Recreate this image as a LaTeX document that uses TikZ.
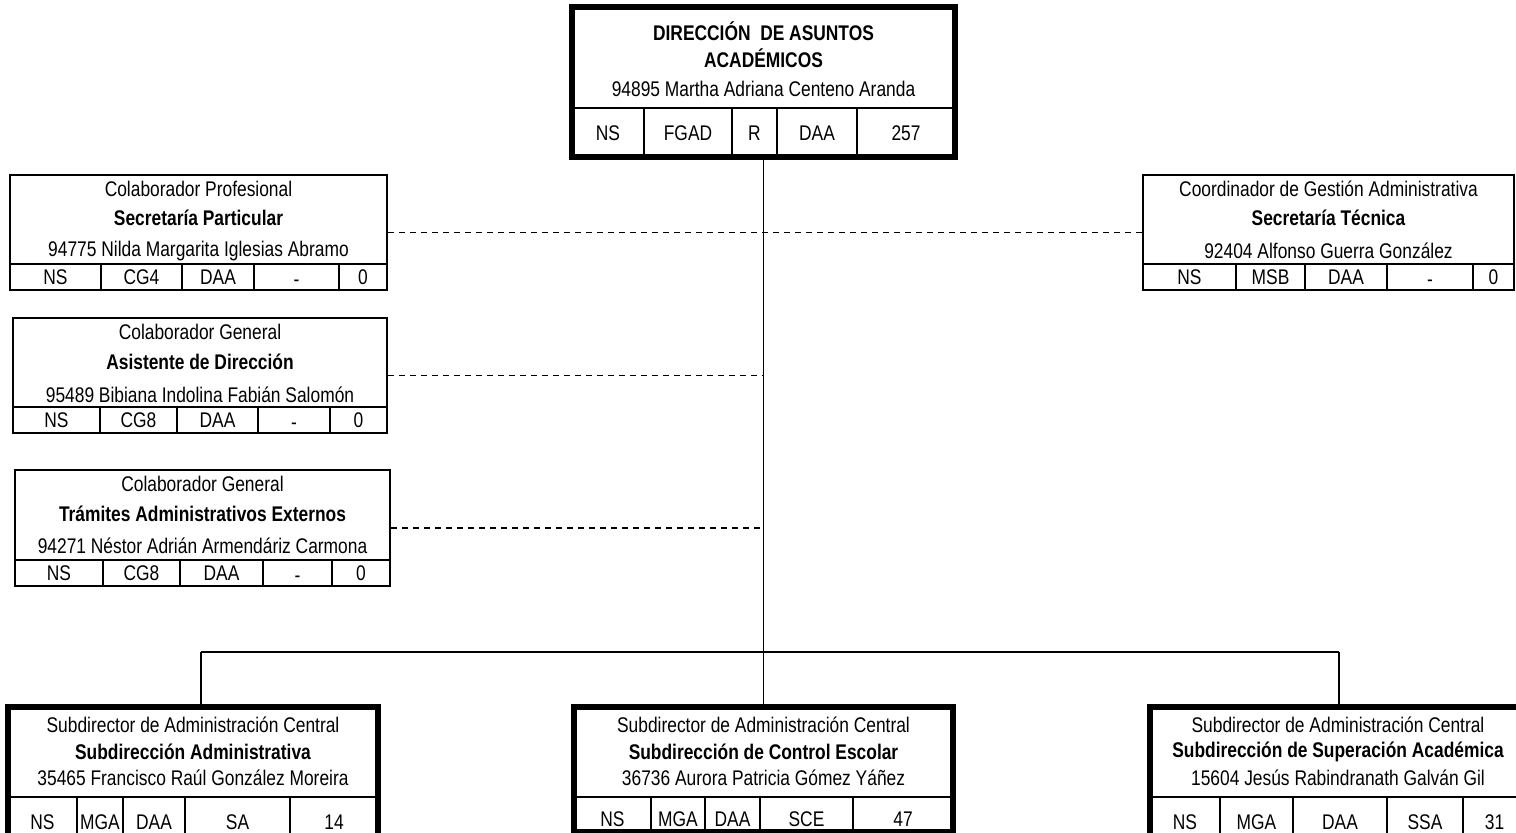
\documentclass[tikz,border=0pt]{standalone}
\usepackage{fontspec}
\setmainfont{Liberation Sans}[FakeStretch=0.82]
\usetikzlibrary{fit}
\newcommand\lowdash{\smash{\raisebox{-1pt}{-}}\vphantom{N}}
\begin{document}
\begin{tikzpicture}[x=0.5pt,y=-0.5pt,
  txt/.style={font=\fontsize{10.6}{12}\selectfont, inner sep=0pt, anchor=center},
  btxt/.style={font=\fontsize{10.6}{12}\selectfont\bfseries, inner sep=0pt, anchor=center},
  thinbox/.style={draw, line width=0.8pt, inner sep=0pt},
  thickbox/.style={draw, line width=2.6pt, inner sep=0pt},
  rule/.style={line width=0.8pt},
  conn/.style={line width=0.8pt},
  dconn/.style={line width=0.9pt, dash pattern=on 3pt off 2.5pt}]
\useasboundingbox (0,0) rectangle (1516,832);
\clip (0,0) rectangle (1516,832);

% ---------- Top box ----------
\node[thickbox, fit={(572,7) (955,157)}] (dir) {};
\node[btxt] (dir-1) at (763.5,31) {DIRECCIÓN\ \ DE ASUNTOS};
\node[btxt] (dir-2) at (763.5,58) {ACADÉMICOS};
\node[txt] (dir-3) at (763.5,89) {94895 Martha Adriana Centeno Aranda};
\draw[rule] (572,108) -- (955,108);
\foreach \a/\b/\t [count=\i] in {572/644/NS,644/732/FGAD,732/777/R,777/857/DAA,857/955/257}{
  \node[txt] (dir-c\i) at ({(\a+\b)/2},133) {\t};
  \draw[rule] (\b,108) -- (\b,157);
}

% ---------- Secretaría Particular ----------
\node[thinbox, fit={(10,175) (387,290)}] (sp) {};
\node[txt] (sp-1) at (198.5,189) {Colaborador Profesional};
\node[btxt] (sp-2) at (198.5,218) {Secretaría Particular};
\node[txt] (sp-3) at (198.5,251) {94775 Nilda Margarita Iglesias Abramo};
\draw[rule] (10,264) -- (387,264);
\foreach \a/\b/\t [count=\i] in {10/101/NS,101/182/CG4,182/254/DAA,254/339/\lowdash,339/387/0}{
  \node[txt] (sp-c\i) at ({(\a+\b)/2},277) {\t};
  \draw[rule] (\b,264) -- (\b,290);
}

% ---------- Secretaría Técnica ----------
\node[thinbox, fit={(1143,175) (1514,290)}] (st) {};
\node[txt] (st-1) at (1328.5,189) {Coordinador de Gestión Administrativa};
\node[btxt] (st-2) at (1328.5,218) {Secretaría Técnica};
\node[txt] (st-3) at (1328.5,251) {92404 Alfonso Guerra González};
\draw[rule] (1143,264) -- (1514,264);
\foreach \a/\b/\t [count=\i] in {1143/1236/NS,1236/1305/MSB,1305/1387/DAA,1387/1473/\lowdash,1473/1514/0}{
  \node[txt] (st-c\i) at ({(\a+\b)/2},277) {\t};
  \draw[rule] (\b,264) -- (\b,290);
}

% ---------- Asistente de Dirección ----------
\node[thinbox, fit={(13,318) (387,433)}] (ad) {};
\node[txt] (ad-1) at (200,332) {Colaborador General};
\node[btxt] (ad-2) at (200,362) {Asistente de Dirección};
\node[txt] (ad-3) at (200,395) {95489 Bibiana Indolina Fabián Salomón};
\draw[rule] (13,407) -- (387,407);
\foreach \a/\b/\t [count=\i] in {13/100/NS,100/177/CG8,177/258/DAA,258/330/\lowdash,330/387/0}{
  \node[txt] (ad-c\i) at ({(\a+\b)/2},420) {\t};
  \draw[rule] (\b,407) -- (\b,433);
}

% ---------- Trámites Administrativos Externos ----------
\node[thinbox, fit={(15,470) (390,586)}] (te) {};
\node[txt] (te-1) at (202.5,484) {Colaborador General};
\node[btxt] (te-2) at (202.5,514) {Trámites Administrativos Externos};
\node[txt] (te-3) at (202.5,546) {94271 Néstor Adrián Armendáriz Carmona};
\draw[rule] (15,560) -- (390,560);
\foreach \a/\b/\t [count=\i] in {15/103/NS,103/180/CG8,180/263/DAA,263/332/\lowdash,332/390/0}{
  \node[txt] (te-c\i) at ({(\a+\b)/2},573) {\t};
  \draw[rule] (\b,560) -- (\b,586);
}

% ---------- Subdirección Administrativa ----------
\node[thickbox, fit={(8,707) (378,838)}] (sa) {};
\node[txt] (sa-1) at (193,725) {Subdirector de Administración Central};
\node[btxt] (sa-2) at (193,752) {Subdirección Administrativa};
\node[txt] (sa-3) at (193,778) {35465 Francisco Raúl González Moreira};
\draw[rule] (8,797) -- (378,797);
\foreach \a/\b/\t [count=\i] in {8/77/NS,77/123/MGA,123/185/DAA,185/290/SA,290/378/14}{
  \node[txt] (sa-c\i) at ({(\a+\b)/2},822) {\t};
  \draw[rule] (\b,797) -- (\b,838);
}

% ---------- Subdirección de Control Escolar ----------
\node[thickbox, fit={(574,707) (953,832)}] (sce) {};
\node[txt] (sce-1) at (763.5,725) {Subdirector de Administración Central};
\node[btxt] (sce-2) at (763.5,752) {Subdirección de Control Escolar};
\node[txt] (sce-3) at (763.5,778) {36736 Aurora Patricia Gómez Yáñez};
\draw[rule] (574,797) -- (953,797);
\foreach \a/\b/\t [count=\i] in {574/651/NS,651/705/MGA,705/760/DAA,760/853/SCE,853/953/47}{
  \node[txt] (sce-c\i) at ({(\a+\b)/2},819) {\t};
  \draw[rule] (\b,797) -- (\b,832);
}

% ---------- Subdirección de Superación Académica ----------
\node[thickbox, fit={(1150,707) (1526,838)}] (ssa) {};
\node[txt] (ssa-1) at (1338,725) {Subdirector de Administración Central};
\node[btxt] (ssa-2) at (1338,752) {Subdirección de Superación Académica};
\node[txt] (ssa-3) at (1338,778) {15604 Jesús Rabindranath Galván Gil};
\draw[rule] (1150,797) -- (1526,797);
\foreach \a/\b/\t [count=\i] in {1150/1220/NS,1220/1293/MGA,1293/1387/DAA,1387/1463/SSA,1463/1526/31}{
  \node[txt] (ssa-c\i) at ({(\a+\b)/2},822) {\t};
  \draw[rule] (\b,797) -- (\b,838);
}

% ---------- Connectors ----------
\coordinate (hub) at (763.5,652);
\coordinate (hl) at (201,652);
\coordinate (hr) at (1339,652);
\draw[conn] (dir.south) -- (hub);
\draw[conn] (hl) -- (hr);
\draw[conn] (hl) -- (hl |- sa.north);
\draw[conn] (hub) -- (sce.north);
\draw[conn] (hr) -- (hr |- ssa.north);
\draw[dconn] (sp.east) -- (sp.east -| hub);
\draw[dconn] (st.west) -- (st.west -| hub);
\draw[dconn] (ad.east) -- (ad.east -| hub);
\draw[dconn] (te.east) -- (te.east -| hub);
\end{tikzpicture}
\end{document}
